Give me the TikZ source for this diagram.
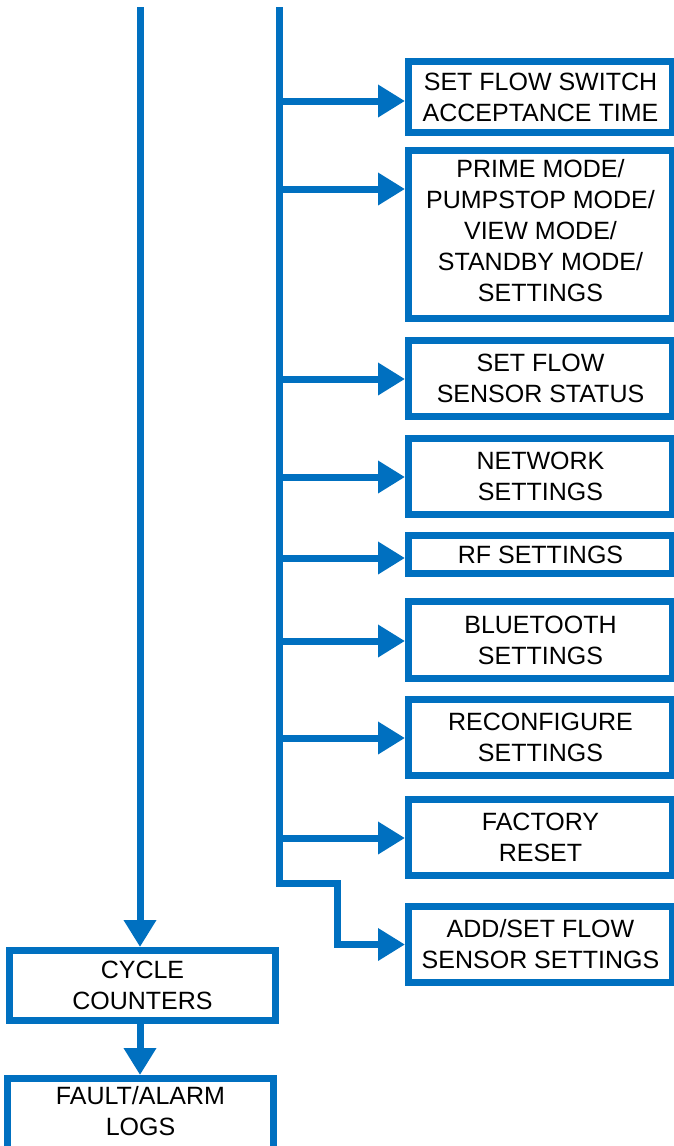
\documentclass[tikz,border=0pt]{standalone}
\usepackage{fontspec}
\setmainfont{Liberation Sans}
\usetikzlibrary{shapes,arrows.meta}
\definecolor{menublue}{RGB}{0,112,192}
\tikzstyle{menu} = [draw=menublue, line width=7pt, rectangle, align=center, minimum width=264pt, inner sep=0pt, font=\fontsize{25}{31}\selectfont]
\tikzstyle{line} = [draw=menublue, line width=7pt, line join=miter, -{Triangle[length=27pt,width=31pt]}]

\begin{document}
\begin{tikzpicture}[x=1pt, y=-1pt]
    \useasboundingbox (0,0) rectangle (673,1146);

    % Place nodes
    \node [menu, minimum height=71pt] (flowswitch) at (540.5,97) {SET FLOW SWITCH\\ACCEPTANCE TIME};
    \node [menu, minimum height=168pt, text depth=9pt] (modes) at (540.5,234.5) {PRIME MODE/\\PUMPSTOP MODE/\\VIEW MODE/\\STANDBY MODE/\\SETTINGS};
    \node [menu, minimum height=76pt] (sensorstatus) at (540.5,378.5) {SET FLOW\\SENSOR STATUS};
    \node [menu, minimum height=76pt] (network) at (540.5,476.5) {NETWORK\\SETTINGS};
    \node [menu, minimum height=38pt] (rf) at (540.5,554.5) {RF SETTINGS};
    \node [menu, minimum height=77pt] (bluetooth) at (540.5,640) {BLUETOOTH\\SETTINGS};
    \node [menu, minimum height=76pt] (reconfigure) at (540.5,737.5) {RECONFIGURE\\SETTINGS};
    \node [menu, minimum height=76pt] (reset) at (540.5,837.5) {FACTORY\\RESET};
    \node [menu, minimum height=76pt] (addsensor) at (540.5,944.5) {ADD/SET FLOW\\SENSOR SETTINGS};
    \node [menu, minimum width=266pt, minimum height=70pt] (counters) at (142.5,985.5) {CYCLE\\COUNTERS};
    \node [menu, minimum width=266pt, minimum height=82pt, text depth=18pt] (logs) at (140.5,1119.5) {FAULT/ALARM\\LOGS};

    % Helper coordinates for the two trunks
    \coordinate (ltop) at (140,7);
    \coordinate (rtop) at (279,7);
    \coordinate (bend) at (279,883);
    \coordinate (jog) at (337,883);

    % Draw edges
    \path [line] (ltop) -- (ltop |- counters.north);
    \path [line] (counters.south -| ltop) -- (ltop |- logs.north);
    \path [line] (rtop) -- (bend) -- (jog) |- (addsensor.west);
    \foreach \n/\y in {flowswitch/101, modes/189, sensorstatus/379, network/477, rf/558, bluetooth/641, reconfigure/738, reset/838}
        \path [line] (rtop |- 0,\y) -- (\n.west |- 0,\y);
\end{tikzpicture}
\end{document}
